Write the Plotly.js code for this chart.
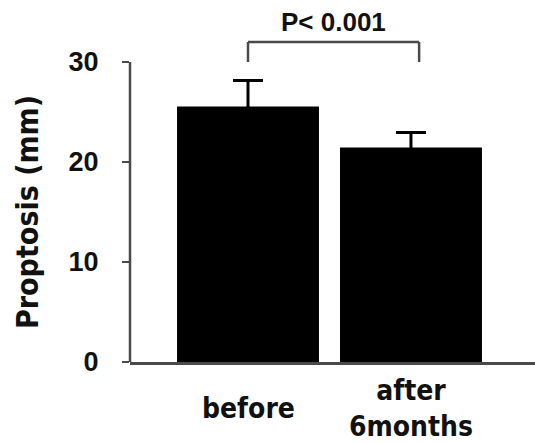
<!DOCTYPE html>
<html>
<head>
<meta charset="utf-8">
<script src="https://cdn.plot.ly/plotly-3.0.1.min.js"></script>
<style>
  html, body { margin: 0; padding: 0; background: #fff; }
  #chart { width: 535px; height: 443px; }
</style>
</head>
<body>
<div id="chart"></div>
<script>
// Data
const categories = ["before", "after<br>6months"];
const meanValues = [25.55, 21.45];
const errorValues = [2.6, 1.5];   // symmetric; lower half hides inside the black bars
const yTickValues = [0, 10, 20, 30];
const yTickLabels = ["0", "10", "20", "30"];
const pLabel = "P< 0.001";
const bracketLevels = [30, 32];   // bracket ends and bracket bar (mm)
const bracketSpan = [0, 1.05];    // from category 0 to just past category 1
const yTitle = "Proptosis (mm)";

const condensed = "DejaVu Sans Condensed, DejaVu Sans, sans-serif";
const arialLike = "Liberation Sans, Arial, sans-serif";

const xIdx = categories.map((c, i) => i);

const trace = {
  type: "bar",
  x: xIdx,
  y: meanValues,
  width: 0.871,
  marker: { color: "#000000", line: { width: 0 } },
  error_y: {
    type: "data",
    array: errorValues,
    visible: true,
    color: "#000000",
    thickness: 3,
    width: 15
  },
  hoverinfo: "skip"
};

const annotations = categories.map((c, i) => ({
  x: i, xref: "x",
  y: -0.13, yref: "paper",
  text: c,
  showarrow: false,
  xanchor: "center", yanchor: "middle",
  font: { family: condensed, size: 28, color: "#111", weight: "bold" }
}));
annotations.push({
  x: (bracketSpan[0] + bracketSpan[1]) / 2, xref: "x",
  y: 34.0, yref: "y",
  text: pLabel,
  showarrow: false,
  xanchor: "center", yanchor: "middle",
  font: { family: arialLike, size: 26, color: "#111", weight: "bold" }
});
// y axis title
annotations.push({
  x: -0.2543, xref: "paper",
  y: 0.4225, yref: "paper",
  text: yTitle,
  textangle: -90,
  showarrow: false,
  xanchor: "center", yanchor: "middle",
  font: { family: condensed, size: 30, color: "#111", weight: "bold" }
});

const lineColor = "#4a4a4a";
const shapes = [
  // y axis line from 0 to 30 only
  { type: "line", xref: "paper", yref: "y", x0: 0, x1: 0, y0: yTickValues[0], y1: yTickValues[yTickValues.length - 1],
    line: { color: lineColor, width: 2.5 } },
  // significance bracket
  { type: "line", xref: "x", yref: "y", x0: bracketSpan[0], x1: bracketSpan[0], y0: bracketLevels[0], y1: bracketLevels[1],
    line: { color: lineColor, width: 2.5 } },
  { type: "line", xref: "x", yref: "y", x0: bracketSpan[0], x1: bracketSpan[1], y0: bracketLevels[1], y1: bracketLevels[1],
    line: { color: lineColor, width: 2.5 } },
  { type: "line", xref: "x", yref: "y", x0: bracketSpan[1], x1: bracketSpan[1], y0: bracketLevels[1], y1: bracketLevels[0],
    line: { color: lineColor, width: 2.5 } }
];

const layout = {
  width: 535,
  height: 443,
  margin: { l: 130, r: 0, t: 7, b: 81, pad: 0 },
  paper_bgcolor: "#ffffff",
  plot_bgcolor: "#ffffff",
  showlegend: false,
  xaxis: {
    range: [-0.724, 1.761],
    showticklabels: false,
    ticks: "",
    showgrid: false,
    zeroline: false,
    showline: true,
    linecolor: lineColor,
    linewidth: 2.5,
    fixedrange: true
  },
  yaxis: {
    range: [0, 35.5],
    tickmode: "array",
    tickvals: yTickValues,
    ticktext: yTickLabels,
    ticks: "outside",
    ticklen: 7,
    tickwidth: 2.5,
    tickcolor: lineColor,
    ticklabelstandoff: 18,
    showgrid: false,
    zeroline: false,
    showline: false,
    tickfont: { family: arialLike, size: 27, color: "#111", weight: "bold" },
    automargin: false,
    fixedrange: true
  },
  annotations: annotations,
  shapes: shapes
};

Plotly.newPlot("chart", [trace], layout, { displayModeBar: false, staticPlot: true });
</script>
</body>
</html>
